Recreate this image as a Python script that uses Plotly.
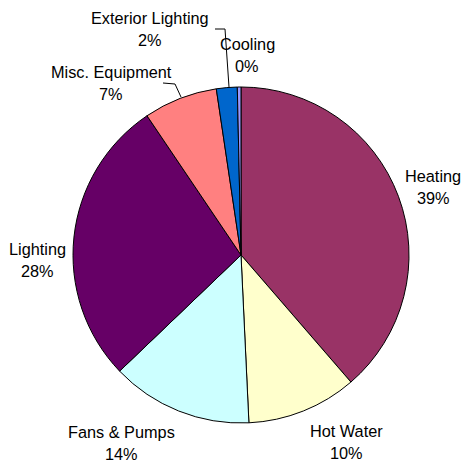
import plotly.graph_objects as go

labels = ["Heating", "Hot Water", "Fans & Pumps", "Lighting", "Misc. Equipment", "Exterior Lighting", "Cooling"]
values = [38.65, 10.6, 13.6, 27.7, 7.1, 2.0, 0.35]
pct_text = ["39%", "10%", "14%", "28%", "7%", "2%", "0%"]
colors = ["#993366", "#FFFFCC", "#CCFFFF", "#660066", "#FF8080", "#0066CC", "#9999FF"]

W, H = 464, 462
cx, cy, r = 241, 255, 168

# label anchor positions in pixels (center of two-line text block)
label_pos = {
    "Heating": (433, 187),
    "Hot Water": (346, 442),
    "Fans & Pumps": (121, 443),
    "Lighting": (37, 260),
    "Misc. Equipment": (111, 83),
    "Exterior Lighting": (150, 29),
    "Cooling": (247, 55),
}
LINE = 21.5

fig = go.Figure(go.Pie(
    labels=labels, values=values, sort=False, direction="clockwise", rotation=0,
    marker=dict(colors=colors, line=dict(color="black", width=1)),
    textinfo="none", hoverinfo="label+percent", showlegend=False,
    domain=dict(x=[(cx - r) / W, (cx + r) / W], y=[1 - (cy + r) / H, 1 - (cy - r) / H]),
))

font = dict(family="Liberation Sans, Arial, sans-serif", size=16.3, color="black")
for lab, pct in zip(labels, pct_text):
    px, py = label_pos[lab]
    for txt, dy in ((lab, -LINE / 2), (pct, LINE / 2)):
        fig.add_annotation(x=px / W, y=1 - (py + dy) / H, xref="paper", yref="paper",
                           text=txt, showarrow=False, font=font,
                           xanchor="center", yanchor="middle", align="center")

def leader(points):
    path = "M " + " L ".join(f"{x / W},{1 - y / H}" for x, y in points)
    fig.add_shape(type="path", path=path, xref="paper", yref="paper",
                  line=dict(color="black", width=1))

leader([(215, 29), (225, 29), (229, 87)])
leader([(163, 83), (175, 84), (181, 97)])

fig.update_layout(width=W, height=H, margin=dict(l=0, r=0, t=0, b=0),
                  paper_bgcolor="white", plot_bgcolor="white")
fig.write_html("out.html")
